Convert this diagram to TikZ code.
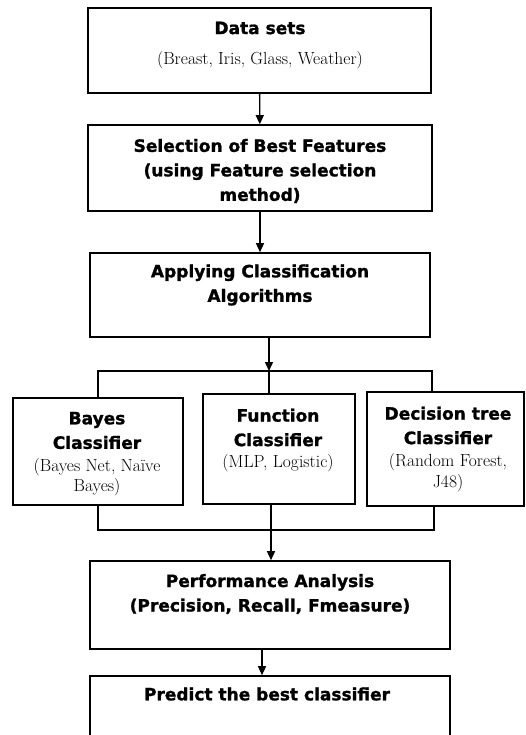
\documentclass[tikz,border=0pt]{standalone}
\usepackage{fontspec}
\newfontfamily\hdfont{DejaVu Sans}[BoldFeatures={FakeBold=1.2}]
\usetikzlibrary{arrows.meta}
\begin{document}
\begin{tikzpicture}[x=1pt,y=-1pt,
  box/.style={draw=black,line width=1.6pt,fill=white,inner sep=0pt,rectangle},
  hd/.style={font=\hdfont\bfseries\fontsize{17}{24.5}\selectfont,align=center,inner sep=0pt},
  sub/.style={font=\fontsize{17.5}{20.5}\selectfont,align=center,inner sep=0pt},
  conn/.style={line width=1.4pt},
  arr/.style={conn,-{Triangle[length=9pt,width=8pt]}}]
\useasboundingbox[fill=white] (0,0) rectangle (526,735);

% boxes
\node[box,minimum width=343pt,minimum height=85pt] (b1) at (259.5,50.5) {};
\node[box,minimum width=344pt,minimum height=86pt] (b2) at (260,168) {};
\node[box,minimum width=340pt,minimum height=84pt] (b3) at (260,295) {};
\node[box,minimum width=170pt,minimum height=107pt] (bay) at (98,451.5) {};
\node[box,minimum width=152pt,minimum height=110pt] (fun) at (279,449) {};
\node[box,minimum width=157pt,minimum height=114pt] (dec) at (445.5,449) {};
\node[box,minimum width=360pt,minimum height=88pt] (perf) at (270,605) {};
\node[box,minimum width=360pt,minimum height=100pt] (pred) at (270,726) {};

% texts
\node[hd] (t1) at (260,28) {Data sets};
\node[sub] (s1) at (260,60) {(Breast, Iris, Glass, Weather)};
\node[hd] (t2) at (260,171) {Selection of Best Features\\(using Feature selection\\method)};
\node[hd] (t3) at (260,285) {Applying Classification\\Algorithms};
\node[hd] (t4) at (97,430.5) {Bayes\\Classifier};
\node[sub] (s4) at (97,477) {(Bayes Net, Naïve\\Bayes)};
\node[hd] (t5) at (278,427.5) {Function\\Classifier};
\node[sub] (s5) at (278,463) {(MLP, Logistic)};
\node[hd] (t6) at (448,425.5) {Decision tree\\Classifier};
\node[sub] (s6) at (448,472.5) {(Random Forest,\\J48)};
\node[hd] (t7) at (270,594) {Performance Analysis\\(Precision, Recall, Fmeasure)};
\node[hd] (t8) at (267,694) {Predict the best classifier};

% connectors
\draw[arr] (b1) -- (b2);
\draw[arr] (b2) -- (b3);
\coordinate (j1) at (269,371);
\coordinate (jl) at (98,371);
\coordinate (jr) at (432,371);
\draw[arr] (b3.south -| j1) -- (j1);
\draw[conn] (jl |- bay.north) -- (jl) -- (jr) -- (jr |- dec.north);
\draw[conn] (j1) -- (j1 |- fun.north);
\coordinate (k1) at (271,530);
\coordinate (kl) at (98,530);
\coordinate (kr) at (434,530);
\draw[conn] (kl |- bay.south) -- (kl) -- (kr) -- (kr |- dec.south);
\draw[arr] (k1 |- fun.south) -- (k1 |- perf.north);
\coordinate (p1) at (262,0);
\draw[arr] (perf.south -| p1) -- (pred.north -| p1);
\end{tikzpicture}
\end{document}
